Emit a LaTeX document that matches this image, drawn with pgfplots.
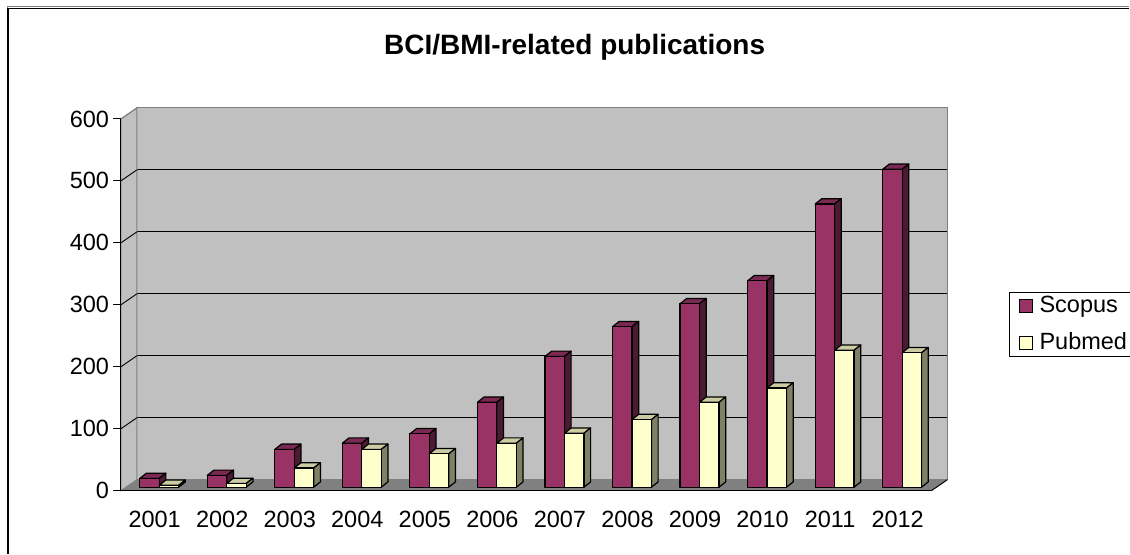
\documentclass[border=0pt]{standalone}
\usepackage{pgfplots}
\pgfplotsset{compat=1.18}
\usepackage{pgfplotstable}
\usepackage{fontspec}
\setmainfont{Liberation Sans}
\definecolor{scopusF}{HTML}{993366}
\definecolor{scopusT}{HTML}{7A2952}
\definecolor{scopusS}{HTML}{4D1A33}
\definecolor{pubF}{HTML}{FFFFCC}
\definecolor{pubT}{HTML}{CCCCA3}
\definecolor{pubS}{HTML}{808066}
\definecolor{wall}{HTML}{C0C0C0}
\definecolor{floorc}{HTML}{808080}

\pgfplotstableread{
yr s p
2001 14 3
2002 19 6
2003 61 31
2004 71 61
2005 86 54
2006 137 71
2007 211 87
2008 259 109
2009 296 137
2010 333 160
2011 457 221
2012 513 217
}\pubdata

\newcommand\barbox[3]{%
  \pgfmathsetlengthmacro\barhh{\bv*0.31}%
  \path[fill=#2,draw=black,line width=0.6pt,line join=round]
    (-2.625pt,1.75pt) -- (7.125pt,1.75pt) -- (10.475pt,4.4pt) -- (0.725pt,4.4pt) -- cycle;
  \path[fill=#3,draw=black,line width=0.6pt,line join=round]
    (7.125pt,1.75pt) -- (10.475pt,4.4pt) -- (10.475pt,4.4pt-\barhh) -- (7.125pt,1.75pt-\barhh) -- cycle;
  \path[fill=#1,draw=black,line width=0.6pt,line join=round]
    (-2.625pt,1.75pt) rectangle (7.125pt,1.75pt-\barhh);
}
\pgfdeclareplotmark{scopus3d}{\barbox{scopusF}{scopusT}{scopusS}}
\pgfdeclareplotmark{pubmed3d}{\barbox{pubF}{pubT}{pubS}}

\begin{document}
\begin{tikzpicture}
% frame
\draw[floorc,line width=0.5pt] (3.75pt,0pt) -- (3.75pt,273.75pt) -- (565pt,273.75pt);
\draw[black,line width=0.75pt] (4pt,0pt) -- (4pt,272.75pt) -- (565pt,272.75pt);
\path (0pt,0pt) rectangle (565pt,277pt);
% title
\node[anchor=base,font=\fontsize{14}{17}\selectfont\bfseries] at (287.5pt,249.5pt) {BCI/BMI-related publications};

% back wall
\begin{axis}[
  at={(68.5pt,37pt)}, anchor=south west,
  scale only axis, width=405.5pt, height=186pt,
  xmin=-0.5, xmax=11.5, ymin=0, ymax=600,
  xtick=\empty, ytick={0,100,...,600}, yticklabels={},
  major tick length=0pt,
  ymajorgrids, grid style={black,line width=0.45pt},
  axis background/.style={fill=wall},
  axis line style={floorc,line width=0.5pt},
]
\end{axis}
% side wall and floor
\path[fill=wall,draw=floorc,line width=0.5pt] (60.5pt,31.5pt) -- (60.5pt,217.5pt) -- (68.5pt,223pt) -- (68.5pt,37pt) -- cycle;
\path[fill=floorc] (60.5pt,31.5pt) -- (466pt,31.5pt) -- (474pt,37pt) -- (68.5pt,37pt) -- cycle;
\draw[black,line width=0.5pt] (466pt,31.5pt) -- (474pt,37pt);

% front axis with bars
\begin{axis}[
  at={(60.5pt,31.5pt)}, anchor=south west,
  scale only axis, width=405.5pt, height=186pt,
  xmin=-0.5, xmax=11.5, ymin=0, ymax=600,
  clip=false,
  axis x line*=bottom, axis y line*=left,
  axis line style={black,line width=0.5pt},
  tick align=outside,
  xtick={0,...,11},
  xticklabels={2001,2002,2003,2004,2005,2006,2007,2008,2009,2010,2011,2012},
  extra x ticks={-0.5,0.5,...,11.5},
  extra x tick labels={},
  extra x tick style={major tick length=3.75pt},
  major tick length=3.75pt,
  xtick style={draw=none},
  ytick style={black,line width=0.5pt},
  ytick={0,100,...,600},
  /pgf/number format/assume math mode=true,
  tick label style={font=\fontsize{11.75}{14}\selectfont},
  xticklabel style={inner sep=0pt, yshift=-6.3pt},
  yticklabel style={inner sep=0pt, xshift=-2pt},
  legend style={at={(1.0962,0.535)}, anchor=north west, overlay,
    draw=black, line width=0.4pt, fill=white,
    font=\fontsize{11.75}{14}\selectfont,
    inner xsep=4.5pt, inner ysep=0pt, row sep=4.5pt,
    nodes={inner xsep=3.5pt}},
  legend cell align=left,
  legend image code/.code={\draw[#1,line width=0.4pt] (0pt,-3.25pt) rectangle (6.5pt,3.25pt);},
]
\pgfplotsinvokeforeach{100,200,300,400,500}{
  \draw[black,line width=0.45pt] (axis cs:-0.5,#1) -- ++(8pt,5.5pt);
}
\draw[floorc,line width=0.5pt] (axis cs:-0.5,600) -- ++(8pt,5.5pt);
\addplot[only marks, mark=scopus3d, forget plot,
  visualization depends on={\thisrow{s} \as \bv}]
  table[x expr=\coordindex-0.1442, y=s]{\pubdata};
\addplot[only marks, mark=pubmed3d, forget plot,
  visualization depends on={\thisrow{p} \as \bv}]
  table[x expr=\coordindex+0.1442, y=p]{\pubdata};
\addlegendimage{fill=scopusF,draw=black}
\addlegendentry{Scopus}
\addlegendimage{fill=pubF,draw=black}
\addlegendentry{Pubmed\hspace{8pt}}
\end{axis}
\end{tikzpicture}
\end{document}
